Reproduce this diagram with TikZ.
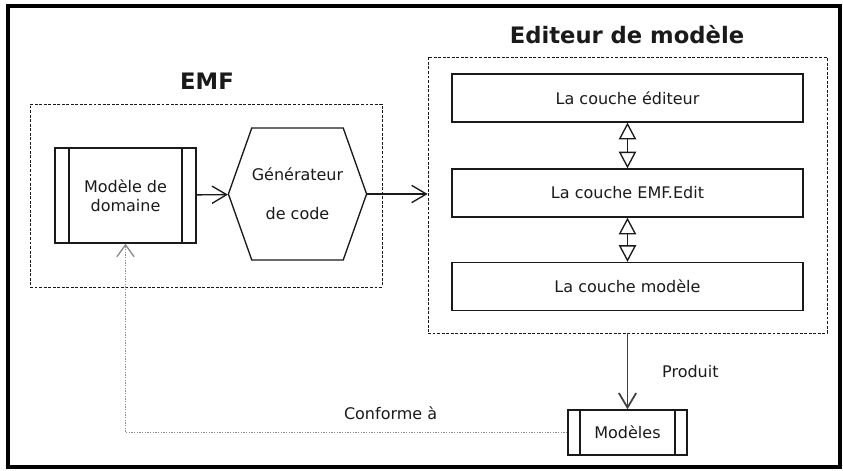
\documentclass[tikz,border=0pt]{standalone}
\usepackage{fontspec}
\setmainfont{DejaVu Sans}
\usetikzlibrary{arrows.meta,positioning,shapes.symbols}
\definecolor{Ink}{HTML}{1A1A1A}
\definecolor{Dots}{HTML}{8C8C8C}
\definecolor{Wire}{HTML}{404040}
\tikzset{
  frame/.style={draw=black,line width=2.4pt},
  group/.style={draw=Ink,line width=0.6pt,dash pattern=on 2.2pt off 1.2pt,inner sep=0pt},
  title/.style={font=\fontsize{17}{20}\selectfont\bfseries,text=Ink},
  txt/.style={font=\fontsize{12}{14.4}\selectfont,text=Ink},
  layer/.style={txt,draw=Ink,line width=1pt,minimum width=263.25pt,minimum height=36pt},
  procbox/.style={txt,draw=Ink,line width=1pt,align=center,
    path picture={
      \draw[line width=1pt] ([xshift=#1]path picture bounding box.north west) -- ([xshift=#1]path picture bounding box.south west);
      \draw[line width=1pt] ([xshift=-#1]path picture bounding box.north east) -- ([xshift=-#1]path picture bounding box.south east);}},
  procbox/.default=10.5pt,
  hexa/.style={txt,draw=Ink,line width=1pt,align=center,signal,signal to=east and west,signal pointer angle=141,inner sep=0pt},
  arr/.style={-{Straight Barb[length=11pt,width=13pt]},draw=Ink,line width=1pt},
  biarr/.style={{Triangle[open,length=12.5pt,width=13pt]}-{Triangle[open,length=12.5pt,width=13pt]},draw=Ink,line width=1pt},
  dotarr/.style={-{Straight Barb[length=9pt,width=13pt]},draw=Dots,line width=1pt,densely dotted}
}
\begin{document}
\begin{tikzpicture}[x=0.75pt,y=-0.75pt]
  \useasboundingbox (0,0) rectangle (843,471);
  \draw[frame] (8,6) rectangle (840,467);
  % EMF
  \node[group,minimum width=264pt,minimum height=137.25pt] (emf) at (206,195.5) {};
  \node[title] (emftitle) at (207,81) {EMF};
  \node[procbox,minimum width=105.75pt,minimum height=71.25pt] (dom) at (125.5,195.5) {Modèle de\\domaine};
  \node[hexa,minimum width=89.25pt,minimum height=99pt] (gen) at (297.5,194) {Générateur\\[15pt]de code};
  % editeur
  \node[group,minimum width=299.25pt,minimum height=207pt] (edit) at (627.5,195) {};
  \node[title] (edittitle) at (627,35) {Editeur de modèle};
  \node[layer] (ed) at (627.5,98) {La couche éditeur};
  \node[layer] (emfedit) at (627.5,193) {La couche EMF.Edit};
  \node[layer] (model) at (627.5,286.5) {La couche modèle};
  \node[procbox=9pt,minimum width=89.25pt,minimum height=33.75pt] (mod) at (627.5,432.5) {Modèles};
  \draw[biarr] (ed) -- (emfedit);
  \draw[biarr] (emfedit) -- (model);
  \draw[arr] (dom) -- (gen);
  \draw[arr] (gen.east) -- (edit.west |- gen.east);
  \draw[arr,draw=Wire,line width=1.3pt] (edit.south -| mod.north) -- node[txt,midway,right=22pt] (prod) {Produit} (mod.north);
  \draw[dotarr] (mod.west) -| node[txt,pos=0.2,above=6pt] (conf) {Conforme à} (dom.south);
\end{tikzpicture}
\end{document}
